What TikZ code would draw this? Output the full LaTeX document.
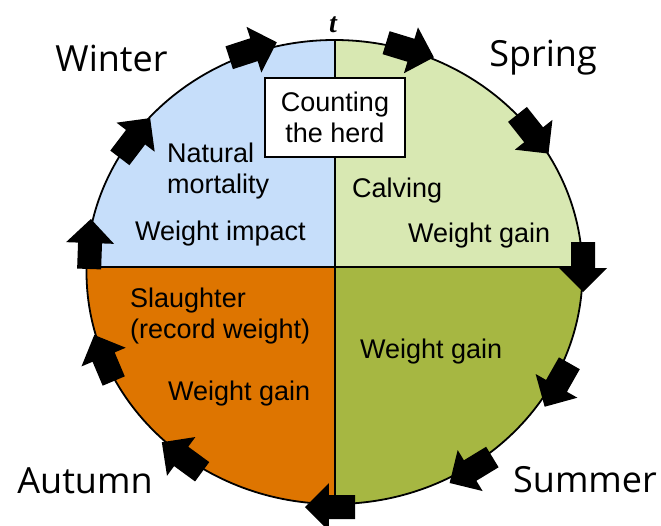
\documentclass[tikz,border=0pt]{standalone}
\usepackage{fontspec}
\newfontfamily\labfont{Liberation Sans}
\newfontfamily\seasonfont{Open Sans}
\newfontfamily\tfont{Liberation Serif}
\definecolor{qblue}{RGB}{198,222,250}
\definecolor{qlgreen}{RGB}{216,232,178}
\definecolor{qolive}{RGB}{166,183,66}
\definecolor{qorange}{RGB}{222,117,0}
\begin{document}
\begin{tikzpicture}[x=1pt,y=1pt,
  lab/.style={font=\labfont\fontsize{27}{31}\selectfont, inner sep=0pt},
  labw/.style={lab, anchor=base west},
  season/.style={font=\seasonfont\fontsize{36}{43}\selectfont, inner sep=0pt, anchor=base},
  rim/.style={line width=1.8pt, black},
  blockarrow/.pic={\fill[black] (-25,-12) -- (1,-12) -- (1,-24) -- (25,0) -- (1,24) -- (1,12) -- (-25,12) -- cycle;}]
\useasboundingbox (-334.5,-253) rectangle (326.5,272);
% quadrants
\begin{scope}
  \clip (0,0) ellipse [x radius=248pt, y radius=232pt];
  \fill[qblue]   (-260,5) rectangle (0.5,260);
  \fill[qlgreen] (0.5,5) rectangle (260,260);
  \fill[qolive]  (0.5,5) rectangle (260,-260);
  \fill[qorange] (-260,5) rectangle (0.5,-260);
  \draw[rim] (0.5,-260) -- (0.5,260);
  \draw[rim] (-260,5) -- (260,5);
\end{scope}
\draw[rim] (0,0) ellipse [x radius=248pt, y radius=232pt];
% arrows (clockwise)
\pic[rotate=18]     at (-81.5,222) {blockarrow};
\pic[rotate=-17]    at (75.5,222)  {blockarrow};
\pic[rotate=-51.6]  at (198.5,138) {blockarrow};
\pic[rotate=-90]    at (248.5,5)   {blockarrow};
\pic[rotate=-119.6] at (222.5,-113) {blockarrow};
\pic[rotate=-148.7] at (136.5,-198) {blockarrow};
\pic[rotate=180]    at (-4.5,-235) {blockarrow};
\pic[rotate=143.8]  at (-152.5,-185) {blockarrow};
\pic[rotate=112.9]  at (-230.5,-86) {blockarrow};
\pic[rotate=88]     at (-244.5,28) {blockarrow};
\pic[rotate=52.7]   at (-199.5,134) {blockarrow};
% box
\node[lab, draw, line width=1.8pt, fill=white, minimum width=140pt, minimum height=79pt, align=center] (herd) at (0.5,154.35) {Counting\\the herd};
\node[font=\tfont\fontsize{28}{32}\selectfont\bfseries\itshape, inner sep=0pt, anchor=base] (tlab) at (-1.5,239) {t};
% quadrant texts
\node[labw] (nat1) at (-167.5,110) {Natural};
\node[labw] (nat2) at (-167.5,79) {mortality};
\node[labw] (wimp) at (-199.5,32) {Weight impact};
\node[labw] (calv) at (17.5,75) {Calving};
\node[labw] (wgsp) at (73.5,30) {Weight gain};
\node[labw] (sl1) at (-204.5,-35) {Slaughter};
\node[labw] (sl2) at (-204.5,-66) {(record weight)};
\node[labw] (wgau) at (-166.5,-128) {Weight gain};
\node[labw] (wgsu) at (25.5,-86) {Weight gain};
% seasons
\node[season] (win) at (-223,200) {Winter};
\node[season] (spr) at (208.5,205) {Spring};
\node[season] (aut) at (-249.5,-221) {Autumn};
\node[season] (sum) at (250.5,-220) {Summer};
\end{tikzpicture}
\end{document}
